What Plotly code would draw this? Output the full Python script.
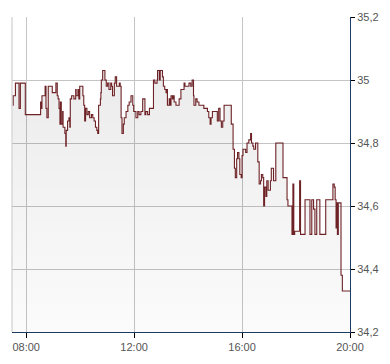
import plotly.graph_objects as go
import pandas as pd

# minutes since midnight
minutes = [450, 451, 456, 464, 467, 478, 512, 513, 515, 522, 524, 526, 529, 538, 546, 549, 551, 553, 555, 556,
           558, 561, 562, 566, 568, 569, 572, 575, 577, 578, 581, 586, 590, 591, 595, 597, 599, 606, 608, 610,
           612, 615, 618, 621, 625, 628, 631, 634, 637, 639, 641, 645, 646, 647, 650, 653, 655, 658, 661, 664,
           668, 670, 672, 676, 678, 681, 687, 689, 691, 693, 696, 698, 702, 706, 709, 713, 717, 719, 724, 728,
           731, 735, 739, 744, 746, 750, 754, 763, 766, 771, 772, 776, 778, 783, 785, 788, 791, 793, 794, 798,
           800, 802, 805, 807, 809, 813, 820, 824, 831, 833, 842, 846, 849, 852, 853, 857, 860, 864, 875, 883,
           886, 889, 891, 894, 905, 908, 911, 914, 917, 920, 936, 940, 943, 945, 948, 950, 953, 955, 958, 960,
           962, 968, 971, 975, 979, 981, 984, 986, 990, 995, 998, 1001, 1003, 1006, 1008, 1010, 1013, 1015, 1018,
           1023, 1025, 1030, 1035, 1051, 1060, 1062, 1071, 1073, 1075, 1077, 1088, 1090, 1100, 1111, 1115, 1119,
           1122, 1126, 1133, 1146, 1162, 1165, 1167, 1169, 1170, 1172, 1174, 1180, 1183, 1200]
prices = [34.92, 34.95, 34.99, 34.91, 34.99, 34.89, 34.93, 34.91, 34.95, 34.98, 34.91, 34.88, 34.98, 34.96, 34.99,
          34.95, 34.94, 34.91, 34.86, 34.93, 34.86, 34.90, 34.85, 34.83, 34.79, 34.84, 34.87, 34.88, 34.85, 34.94,
          34.95, 34.94, 34.97, 34.95, 34.97, 34.94, 34.98, 34.95, 34.92, 34.87, 34.91, 34.89, 34.90, 34.88, 34.89,
          34.88, 34.87, 34.85, 34.84, 34.83, 34.92, 34.94, 34.96, 35.00, 35.03, 35.03, 35.00, 34.98, 34.99, 34.97,
          34.99, 34.98, 34.95, 34.99, 35.01, 34.98, 34.99, 34.98, 34.88, 34.83, 34.86, 34.88, 34.90, 34.92, 34.93,
          34.95, 34.92, 34.90, 34.88, 34.90, 34.89, 34.90, 34.94, 34.89, 34.90, 34.89, 34.91, 35.00, 34.99, 35.00,
          35.03, 35.00, 35.03, 35.01, 34.98, 34.97, 34.96, 34.97, 34.92, 34.94, 34.92, 34.95, 34.94, 34.95, 34.93,
          34.92, 34.94, 34.97, 34.99, 34.98, 34.99, 34.98, 35.00, 34.95, 34.92, 34.94, 34.93, 34.92, 34.91, 34.90,
          34.88, 34.86, 34.88, 34.90, 34.87, 34.91, 34.87, 34.85, 34.87, 34.92, 34.86, 34.78, 34.72, 34.69, 34.75,
          34.77, 34.75, 34.70, 34.69, 34.76, 34.78, 34.77, 34.80, 34.81, 34.83, 34.80, 34.79, 34.78, 34.80, 34.74,
          34.67, 34.68, 34.70, 34.69, 34.60, 34.66, 34.63, 34.68, 34.65, 34.68, 34.72, 34.68, 34.80, 34.69, 34.62,
          34.60, 34.51, 34.67, 34.51, 34.52, 34.68, 34.51, 34.62, 34.51, 34.62, 34.59, 34.51, 34.62, 34.51, 34.62,
          34.67, 34.66, 34.62, 34.53, 34.61, 34.51, 34.61, 34.38, 34.33, 34.33]

tick_hours = ["08:00", "12:00", "16:00", "20:00"]

day = pd.Timestamp("2024-01-02")
x = [day + pd.Timedelta(minutes=m) for m in minutes]
tickvals = [day + pd.Timedelta(hours=int(h[:2])) for h in tick_hours]

fig = go.Figure()
fig.add_trace(go.Scatter(
    x=x, y=prices, mode="lines", line=dict(shape="hv", color="#6e2226", width=1.1),
    fill="tozeroy",
    fillgradient=dict(type="vertical", start=34.2, stop=35.05,
                      colorscale=[[0, "rgba(0,0,0,0.012)"], [1, "rgba(0,0,0,0.078)"]]),
    hoverinfo="skip", showlegend=False,
))

axis_font = dict(family="Liberation Sans, Arial", size=11, color="#555555")
fig.update_layout(
    width=390, height=364,
    margin=dict(l=12, r=38, t=11, b=24),
    paper_bgcolor="white", plot_bgcolor="white",
    separators=", ",
    xaxis=dict(
        type="date",
        range=[day + pd.Timedelta(minutes=448.4), day + pd.Timedelta(hours=20)],
        tickvals=tickvals, ticktext=tick_hours,
        showgrid=True, gridcolor="#c4c4c4", gridwidth=1,
        showline=True, linecolor="#1c3a66", linewidth=1,
        ticks="outside", ticklen=5, tickcolor="#000000",
        tickfont=axis_font, zeroline=False, fixedrange=True,
    ),
    yaxis=dict(
        side="right", range=[34.2, 35.2], dtick=0.2, tick0=34.2,
        showgrid=True, gridcolor="#c4c4c4", gridwidth=1,
        showline=True, linecolor="#1c3a66", linewidth=1,
        ticks="outside", ticklen=4, tickcolor="#000000",
        tickfont=axis_font, zeroline=False, fixedrange=True,
    ),
    shapes=[dict(type="line", xref="paper", yref="paper", x0=0, x1=0, y0=0, y1=1,
                 line=dict(color="#c4c4c4", width=1))],
)

fig.write_html("out.html")
